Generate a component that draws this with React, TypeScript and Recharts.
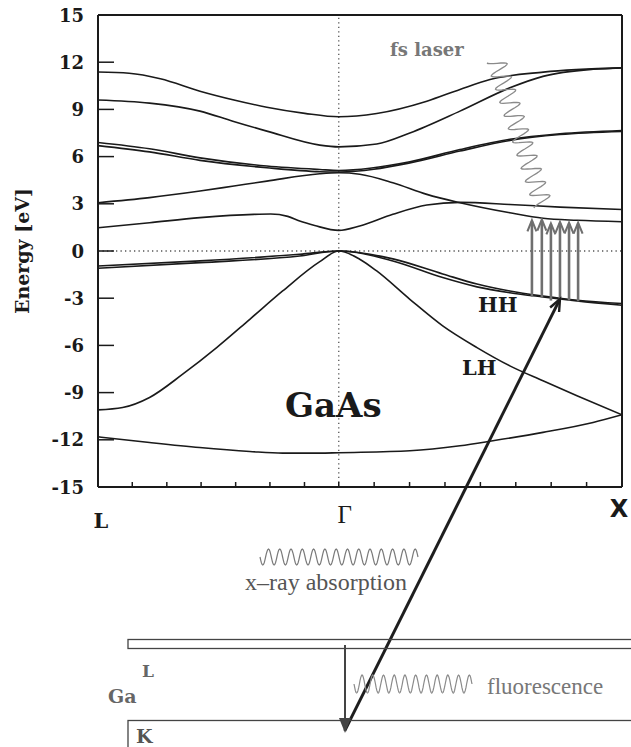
import React from 'react';
import { Line, LineChart, ReferenceLine, XAxis, YAxis } from 'recharts';

// k along L -> Γ -> X (L = -0.85, Γ = 0, X = 1), energy in eV
const bandTop = [[-0.85, 11.38], [-0.74, 11.3], [-0.63, 10.95], [-0.49, 10.16], [-0.37, 9.6], [-0.254, 9.14], [-0.12, 8.75], [0, 8.53], [0.134, 8.74], [0.311, 9.52], [0.428, 10.27], [0.534, 10.9], [0.722, 11.37], [1, 11.64]];
const bandSecond = [[-0.85, 9.6], [-0.668, 9.4], [-0.49, 8.89], [-0.374, 8.25], [-0.254, 7.62], [-0.067, 6.73], [0, 6.62], [0.134, 6.8], [0.251, 7.5], [0.428, 8.89], [0.604, 10.37], [0.721, 11.1], [0.898, 11.55], [1, 11.64]];
const bandPairUpper = [[-0.85, 6.9], [-0.668, 6.5], [-0.49, 5.92], [-0.254, 5.4], [-0.067, 5.18], [0, 5.12], [0.251, 5.67], [0.428, 6.45], [0.604, 7.1], [0.781, 7.45], [1, 7.66]];
const bandPairLower = [[-0.85, 6.7], [-0.668, 6.3], [-0.49, 5.76], [-0.254, 5.29], [-0.067, 5.04], [0, 5.02], [0.251, 5.6], [0.428, 6.35], [0.604, 7.02], [0.781, 7.4], [1, 7.6]];
const bandD = [[-0.85, 3.07], [-0.668, 3.39], [-0.49, 3.81], [-0.37, 4.13], [-0.254, 4.44], [-0.067, 4.91], [0, 4.97], [0.074, 4.88], [0.191, 4.34], [0.311, 3.6], [0.428, 3.07], [0.604, 2.43], [0.721, 2.08], [0.841, 1.95], [1, 1.86]];
const bandE = [[-0.85, 1.48], [-0.668, 1.8], [-0.49, 2.12], [-0.3, 2.33], [-0.24, 2.35], [-0.18, 2.2], [-0.138, 1.9], [-0.085, 1.62], [0, 1.31], [0.074, 1.59], [0.191, 2.33], [0.311, 2.92], [0.428, 3.09], [0.604, 2.96], [0.781, 2.79], [1, 2.64]];
const bandHH1 = [[-0.85, -0.95], [-0.49, -0.63], [-0.138, -0.21], [0, 0], [0.191, -0.5], [0.367, -1.46], [0.488, -2.1], [0.604, -2.54], [0.721, -2.86], [0.841, -3.13], [1, -3.34]];
const bandHH2 = [[-0.85, -1.1], [-0.49, -0.74], [-0.138, -0.32], [0, 0], [0.191, -0.63], [0.367, -1.69], [0.488, -2.28], [0.604, -2.65], [0.721, -2.92], [0.841, -3.17], [1, -3.45]];
const bandLH = [[-0.85, -10.1], [-0.763, -9.95], [-0.668, -9.31], [-0.551, -7.83], [-0.431, -6.14], [-0.314, -4.34], [-0.198, -2.54], [-0.067, -0.68], [0, 0], [0.074, -0.52], [0.134, -1.27], [0.251, -3.07], [0.367, -4.76], [0.488, -6.14], [0.604, -7.3], [0.721, -8.25], [0.841, -9.2], [1, -10.41]];
const bandLow = [[-0.85, -11.81], [-0.668, -12.17], [-0.491, -12.49], [-0.314, -12.74], [-0.198, -12.85], [-0.067, -12.85], [0, -12.82], [0.251, -12.7], [0.428, -12.38], [0.544, -12.06], [0.721, -11.53], [0.898, -10.9], [1, -10.41]];

const bands = [bandTop, bandSecond, bandPairUpper, bandPairLower, bandD, bandE, bandHH1, bandHH2, bandLH, bandLow].map((b) =>
    b.map(([k, e]) => ({ k, e })),
);

const energyTicks = [15, 12, 9, 6, 3, 0, -3, -6, -9, -12, -15];
const kTicks = [-0.85, -0.729, -0.607, -0.486, -0.364, -0.243, -0.121, 0, 0.125, 0.25, 0.375, 0.5, 0.625, 0.75, 0.875, 1];
const pointNames = ['L', 'Γ', 'X'];
const pointK = [-0.85, 0, 1];

// fs-laser pump transitions (HH -> conduction band)
const pumpK = [0.682, 0.717, 0.749, 0.781, 0.813, 0.845];
const pumpFrom = [-2.9, -2.95, -3.15, -3.1, -3.15, -3.2];
const pumpTo = [1.95, 2.0, 1.75, 1.85, 1.8, 1.8];

// x-ray probe: Ga K core level (drawn far below the plot) -> HH band
const probeK = [0.021, 0.781];
const probeE = [-30.5, -3.05];

const W = 631;
const H = 747;
const PLOT_L = 98;
const PLOT_R = 622;
const PLOT_T = 15;
const PLOT_B = 487;
const BOTTOM_H = 60;
const INK = '#1a1a1a';
const GREY = '#777';
const SERIF = "'DejaVu Serif', serif";
const TIMES = "'Liberation Serif', 'Times New Roman', serif";

const pointLabelStyle = [
    { dx: 3, y: 528, family: SERIF, weight: 700, size: 21 },
    { dx: 6, y: 523, family: TIMES, weight: 400, size: 25 },
    { dx: -3, y: 517, family: "'DejaVu Sans', sans-serif", weight: 700, size: 24 },
];

function BottomTick({ x, payload }: any) {
    const v = payload.value;
    const i = pointK.indexOf(v);
    const edge = v === kTicks[0] || v === kTicks[kTicks.length - 1];
    const s = pointLabelStyle[i];
    return (
        <g>
            {!edge && <line x1={x} x2={x} y1={PLOT_B} y2={PLOT_B - 5} stroke={INK} strokeWidth={1.5} />}
            {i >= 0 && (
                <text x={x + s.dx} y={s.y} textAnchor="middle" fontFamily={s.family} fontWeight={s.weight} fontSize={s.size} fill={INK}>
                    {pointNames[i]}
                </text>
            )}
        </g>
    );
}

function TopTick({ x, payload }: any) {
    const v = payload.value;
    if (v === kTicks[0] || v === kTicks[kTicks.length - 1]) return <g />;
    return <line x1={x} x2={x} y1={PLOT_T} y2={PLOT_T + 5} stroke={INK} strokeWidth={1.5} />;
}

function LeftTick({ y, payload }: any) {
    const v = payload.value;
    const inner = Math.abs(v) < 15;
    return (
        <g>
            {inner && <line x1={PLOT_L + 1} x2={PLOT_L + 16} y1={y} y2={y} stroke={INK} strokeWidth={1.5} />}
            <text x={84} y={y} dy={6.5} textAnchor="end" fontFamily={SERIF} fontWeight={700} fontSize={18} fill={INK}>
                {v}
            </text>
        </g>
    );
}

function RightTick({ y, payload }: any) {
    if (Math.abs(payload.value) >= 15) return <g />;
    return <line x1={PLOT_R - 17} x2={PLOT_R - 2} y1={y} y2={y} stroke={INK} strokeWidth={1.5} />;
}

function arrow(color: string, width: number, head: number, spread: number) {
    return (p: any) => {
        const { x1, y1, x2, y2 } = p;
        const dx = x2 - x1;
        const dy = y2 - y1;
        const len = Math.hypot(dx, dy) || 1;
        const ux = dx / len;
        const uy = dy / len;
        const bx = x2 - ux * head;
        const by = y2 - uy * head;
        const px = -uy * spread;
        const py = ux * spread;
        return (
            <g>
                <line x1={x1} y1={y1} x2={x2 - ux} y2={y2 - uy} stroke={color} strokeWidth={width} />
                <polyline
                    points={`${bx + px},${by + py} ${x2},${y2} ${bx - px},${by - py}`}
                    fill="none"
                    stroke={color}
                    strokeWidth={width * 0.8}
                    strokeLinejoin="miter"
                />
            </g>
        );
    };
}

function wave(x1: number, y1: number, x2: number, y2: number, periods: number, amp: number, phase = 0) {
    const dx = x2 - x1;
    const dy = y2 - y1;
    const len = Math.hypot(dx, dy);
    const nx = -dy / len;
    const ny = dx / len;
    const n = Math.round(periods * 16);
    let d = '';
    for (let i = 0; i <= n; i++) {
        const t = i / n;
        const s = amp * Math.sin(2 * Math.PI * periods * t + phase);
        d += (i ? 'L' : 'M') + (x1 + dx * t + nx * s).toFixed(1) + ',' + (y1 + dy * t + ny * s).toFixed(1);
    }
    return d;
}

export default function App() {
    return (
        <div style={{ position: 'relative', width: W, height: H, background: '#fff' }}>
            <style>{'body{margin:0}'}</style>
            <LineChart width={W} height={H} margin={{ top: 0, right: 0, bottom: H - PLOT_B - BOTTOM_H, left: 0 }}>
                <XAxis
                    type="number"
                    dataKey="k"
                    domain={[kTicks[0], kTicks[kTicks.length - 1]]}
                    ticks={kTicks}
                    interval={0}
                    height={BOTTOM_H}
                    allowDataOverflow
                    axisLine={{ stroke: INK, strokeWidth: 2 }}
                    tickLine={false}
                    tick={(p: any) => <BottomTick {...p} />}
                />
                <XAxis
                    xAxisId="top"
                    orientation="top"
                    type="number"
                    dataKey="k"
                    domain={[kTicks[0], kTicks[kTicks.length - 1]]}
                    ticks={kTicks}
                    interval={0}
                    height={PLOT_T}
                    axisLine={{ stroke: INK, strokeWidth: 2 }}
                    tickLine={false}
                    tick={(p: any) => <TopTick {...p} />}
                />
                <YAxis
                    type="number"
                    domain={[-15, 15]}
                    ticks={energyTicks}
                    interval={0}
                    width={PLOT_L}
                    allowDataOverflow
                    axisLine={{ stroke: INK, strokeWidth: 2 }}
                    tickLine={false}
                    tick={(p: any) => <LeftTick {...p} />}
                />
                <YAxis
                    yAxisId="right"
                    orientation="right"
                    type="number"
                    domain={[-15, 15]}
                    ticks={energyTicks}
                    interval={0}
                    width={W - PLOT_R}
                    axisLine={{ stroke: INK, strokeWidth: 2 }}
                    tickLine={false}
                    tick={(p: any) => <RightTick {...p} />}
                />
                <ReferenceLine y={0} stroke="#555" strokeWidth={1.3} strokeDasharray="1.3 3.2" />
                <ReferenceLine x={0} stroke="#555" strokeWidth={1.3} strokeDasharray="1.3 3.2" />
                {bands.map((b, i) => (
                    <Line
                        key={i}
                        data={b}
                        dataKey="e"
                        type="monotone"
                        stroke={INK}
                        strokeWidth={1.6}
                        dot={false}
                        activeDot={false}
                        isAnimationActive={false}
                    />
                ))}
                {pumpK.map((k, i) => (
                    <ReferenceLine
                        key={`pump${i}`}
                        segment={[{ x: k, y: pumpFrom[i] }, { x: k, y: pumpTo[i] }]}
                        shape={arrow('#6f6f6f', 2.6, 11, 4.5)}
                    />
                ))}
                <ReferenceLine
                    segment={[{ x: probeK[0], y: probeE[0] }, { x: probeK[1], y: probeE[1] }]}
                    ifOverflow="visible"
                    shape={arrow('#1e1e1e', 3, 12, 5)}
                />
            </LineChart>
            <svg width={W} height={H} style={{ position: 'absolute', left: 0, top: 0, pointerEvents: 'none' }}>
                <text
                    transform="translate(29 251) rotate(-90)"
                    textAnchor="middle"
                    fontFamily={SERIF}
                    fontWeight={700}
                    fontSize={19}
                    fill={INK}
                >
                    Energy [eV]
                </text>
                <text x={390} y={56} fontFamily={SERIF} fontWeight={700} fontSize={18} fill={GREY}>
                    fs laser
                </text>
                <path d={wave(496, 60, 543, 205, 11, 9.5, Math.PI / 2)} fill="none" stroke="#8a8a8a" strokeWidth={1.3} />
                <text x={478} y={312} fontFamily={SERIF} fontWeight={700} fontSize={21} fill={INK}>
                    HH
                </text>
                <text x={462} y={375} fontFamily={SERIF} fontWeight={700} fontSize={21} fill={INK}>
                    LH
                </text>
                <text x={285} y={417} fontFamily={SERIF} fontWeight={700} fontSize={34} fill={INK}>
                    GaAs
                </text>

                <path d={wave(260, 557, 418, 557, 14, 8)} fill="none" stroke="#7a7a7a" strokeWidth={1.2} />
                <text x={245} y={590} fontFamily={TIMES} fontSize={24} fill="#555">
                    x–ray absorption
                </text>

                <rect x={128} y={639.5} width={520} height={9} fill="none" stroke="#444" strokeWidth={1.3} />
                <rect x={128} y={720.5} width={520} height={40} fill="none" stroke="#444" strokeWidth={1.3} />
                <text x={142} y={677} fontFamily={SERIF} fontWeight={700} fontSize={17} fill="#666">
                    L
                </text>
                <text x={108} y={703} fontFamily={SERIF} fontWeight={700} fontSize={19} fill="#666">
                    Ga
                </text>
                <text x={136} y={743} fontFamily={SERIF} fontWeight={700} fontSize={19} fill="#555">
                    K
                </text>
                <line x1={345} y1={645} x2={345} y2={722} stroke="#444" strokeWidth={2} />
                <polygon points="339,718 351,718 345,733" fill="#444" />
                <path d={wave(354, 684, 472, 684, 11, 9)} fill="none" stroke="#8a8a8a" strokeWidth={1.2} />
                <text x={487} y={694} fontFamily={TIMES} fontSize={23} fill="#777">
                    fluorescence
                </text>
            </svg>
        </div>
    );
}
